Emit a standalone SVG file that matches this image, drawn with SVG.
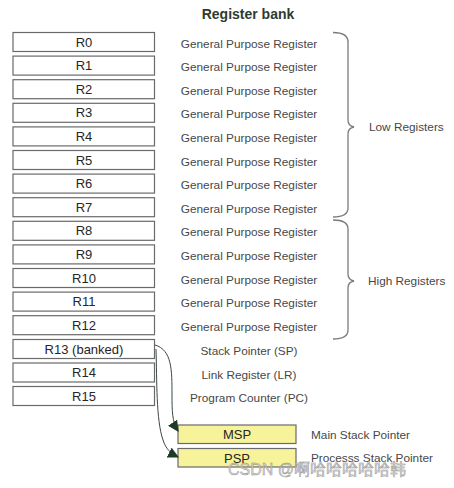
<svg xmlns="http://www.w3.org/2000/svg" width="454" height="488" viewBox="0 0 454 488">
<style>
.reg{fill:#fff;stroke:#6a6a6a;stroke-width:1.2}
.sp{fill:#f7f39a;stroke:#6a6a6a;stroke-width:1.2}
.rl{font-family:"Liberation Sans",Arial,sans-serif;font-size:13px;fill:#262626;text-anchor:middle}
.ds{font-family:"Liberation Sans",Arial,sans-serif;font-size:11.8px;fill:#474747;text-anchor:middle}
.dl{font-family:"Liberation Sans",Arial,sans-serif;font-size:11.8px;fill:#474747}
.br{fill:none;stroke:#7a7a7a;stroke-width:1.3}
.con{fill:none;stroke:#3a4a3e;stroke-width:1}
</style>
<defs>
<marker id="ah" viewBox="0 0 10 10" refX="9" refY="5" markerWidth="11" markerHeight="11" markerUnits="userSpaceOnUse" orient="auto">
<path d="M0,0 L10,5 L0,10 z" fill="#1d3a29"/>
</marker>
</defs>
<rect width="454" height="488" fill="#fff"/>
<text x="248" y="19" font-family="Liberation Sans,Arial,sans-serif" font-size="14" font-weight="bold" fill="#2e3b30" text-anchor="middle">Register bank</text>

<g id="R0"><rect class="reg" x="13" y="32.5" width="141.5" height="19"/><text class="rl" x="84" y="46.5">R0</text><text class="ds" x="249" y="47.5">General Purpose Register</text></g>
<g id="R1"><rect class="reg" x="13" y="56.1" width="141.5" height="19"/><text class="rl" x="84" y="70.1">R1</text><text class="ds" x="249" y="71.1">General Purpose Register</text></g>
<g id="R2"><rect class="reg" x="13" y="79.7" width="141.5" height="19"/><text class="rl" x="84" y="93.7">R2</text><text class="ds" x="249" y="94.7">General Purpose Register</text></g>
<g id="R3"><rect class="reg" x="13" y="103.3" width="141.5" height="19"/><text class="rl" x="84" y="117.3">R3</text><text class="ds" x="249" y="118.3">General Purpose Register</text></g>
<g id="R4"><rect class="reg" x="13" y="126.9" width="141.5" height="19"/><text class="rl" x="84" y="140.9">R4</text><text class="ds" x="249" y="141.9">General Purpose Register</text></g>
<g id="R5"><rect class="reg" x="13" y="150.5" width="141.5" height="19"/><text class="rl" x="84" y="164.5">R5</text><text class="ds" x="249" y="165.5">General Purpose Register</text></g>
<g id="R6"><rect class="reg" x="13" y="174.1" width="141.5" height="19"/><text class="rl" x="84" y="188.1">R6</text><text class="ds" x="249" y="189.1">General Purpose Register</text></g>
<g id="R7"><rect class="reg" x="13" y="197.7" width="141.5" height="19"/><text class="rl" x="84" y="211.7">R7</text><text class="ds" x="249" y="212.7">General Purpose Register</text></g>
<g id="R8"><rect class="reg" x="13" y="221.3" width="141.5" height="19"/><text class="rl" x="84" y="235.3">R8</text><text class="ds" x="249" y="236.3">General Purpose Register</text></g>
<g id="R9"><rect class="reg" x="13" y="244.9" width="141.5" height="19"/><text class="rl" x="84" y="258.9">R9</text><text class="ds" x="249" y="259.9">General Purpose Register</text></g>
<g id="R10"><rect class="reg" x="13" y="268.5" width="141.5" height="19"/><text class="rl" x="84" y="282.5">R10</text><text class="ds" x="249" y="283.5">General Purpose Register</text></g>
<g id="R11"><rect class="reg" x="13" y="292.1" width="141.5" height="19"/><text class="rl" x="84" y="306.1">R11</text><text class="ds" x="249" y="307.1">General Purpose Register</text></g>
<g id="R12"><rect class="reg" x="13" y="315.7" width="141.5" height="19"/><text class="rl" x="84" y="329.7">R12</text><text class="ds" x="249" y="330.7">General Purpose Register</text></g>
<g id="R13"><rect class="reg" x="13" y="339.5" width="141.5" height="19"/><text class="rl" x="84" y="353.5">R13 (banked)</text><text class="ds" x="249" y="355">Stack Pointer (SP)</text></g>
<g id="R14"><rect class="reg" x="13" y="363" width="141.5" height="19"/><text class="rl" x="84" y="377">R14</text><text class="ds" x="249" y="378.5">Link Register (LR)</text></g>
<g id="R15"><rect class="reg" x="13" y="386.5" width="141.5" height="19"/><text class="rl" x="84" y="400.5">R15</text><text class="ds" x="249" y="402">Program Counter (PC)</text></g>

<g id="low-registers">
<path class="br" d="M333,32.5 Q348,32.5 348,42 L348,120 Q348,126 354,127 Q348,128 348,134 L348,208 Q348,217 333,217"/>
<text class="dl" x="369" y="131">Low Registers</text>
</g>
<g id="high-registers">
<path class="br" d="M333,220 Q348,220 348,229 L348,274 Q348,280 354,281 Q348,282 348,288 L348,330 Q348,339 333,339"/>
<text class="dl" x="368" y="285">High Registers</text>
</g>

<g id="MSP"><rect class="sp" x="178" y="425" width="118" height="18.5"/><text class="rl" x="237" y="439">MSP</text><text class="dl" x="311" y="438.5">Main Stack Pointer</text></g>
<g id="PSP"><rect class="sp" x="178" y="448.5" width="118" height="18.5"/><text class="rl" x="237" y="462.5">PSP</text><text class="dl" x="311" y="461.5">Processs Stack Pointer</text></g>

<g id="connectors">
<path class="con" marker-end="url(#ah)" d="M155,345 C172,350 172,370 172,395 C172,410 172,422 178,431"/>
<path class="con" marker-end="url(#ah)" d="M156,349 C157,380 156,420 163,440 C166,449 170,453 178,457"/>
</g>

<text x="228" y="475" font-family="Liberation Sans,'Noto Sans CJK SC',sans-serif" font-size="16" fill="#d0d0d0" stroke="#8a8a8a" stroke-width="0.4" fill-opacity="0.85">CSDN @啊哈哈哈哈哈韩</text>
</svg>
